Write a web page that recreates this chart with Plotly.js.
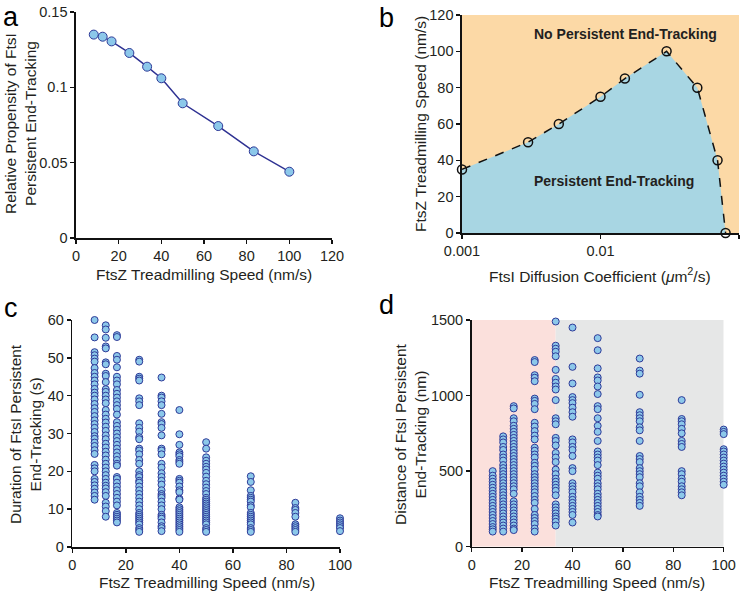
<!DOCTYPE html>
<html>
<head>
<meta charset="utf-8">
<script src="https://cdn.plot.ly/plotly-3.0.1.min.js"></script>
<style>html,body{margin:0;padding:0;background:#fff}#chart{width:746px;height:592px}</style>
</head>
<body>
<div id="chart"></div>
<script>
// ---------- Panel a ----------
const speedA = [8.33, 12.5, 16.67, 25, 33.33, 40, 50, 66.67, 83.33, 100];
const propensityA = [0.1350, 0.1336, 0.1305, 0.1228, 0.1137, 0.1060, 0.0894, 0.0743, 0.0575, 0.0440];

// ---------- Panel b ----------
const diffB = [0.001, 0.003, 0.005, 0.01, 0.015, 0.03, 0.05, 0.07, 0.08];
const speedB = [35, 50, 60, 75, 85, 100, 80, 40, 0];

// ---------- Panel c (duration, s) ----------
const speedsCD = [8.33, 12.5, 16.67, 25, 33.33, 40, 50, 66.67, 83.33, 100];
const durC_8 = [60, 55.4, 51.5, 50.7, 49.8, 49, 47.3, 46, 45, 44, 43, 41.8, 40.8, 40, 39, 37.8, 36.7, 35.7, 34.6, 33.5, 32.5, 31.5, 30.4, 29.3, 28.6, 27.6, 26.7, 25.6, 24.6, 21.7, 20.8, 20, 18, 17.2, 16.3, 15.4, 14.4, 13.5, 12.5];
const durC_12 = [58.6, 57.5, 55.3, 53, 52.5, 48.8, 48.3, 45.8, 45.2, 43.6, 41.7, 41, 40, 39, 38, 36.2, 35, 33.9, 32.9, 31.8, 30.7, 29.5, 28.5, 27.3, 26.3, 25.2, 24.2, 23.1, 22, 21, 20, 19, 18, 17, 16.2, 15.5, 14.5, 13.5, 11.7, 10.7, 9.5, 8];
const durC_16 = [56, 55.5, 50.5, 49.5, 47.5, 45, 44, 43, 41.5, 40.5, 39.5, 38.5, 37.5, 36.5, 35, 33, 32, 31, 30, 29, 28, 27, 26, 25, 24, 23, 22, 21.5, 18.5, 18, 17, 16, 15, 14, 13, 12, 11, 9, 8.5, 8, 7.5, 7, 6.5];
const durC_25 = [49.5, 49, 45, 44.5, 44, 39.3, 38.5, 37.5, 32.7, 31.5, 30.5, 29, 28.5, 26, 25.5, 24.5, 23, 22, 20, 19, 18.5, 17.5, 17, 16, 15, 14, 13, 12, 11, 10, 9, 8.5, 8, 7.5, 7, 6.5, 6, 5, 4.5, 4];
const durC_33 = [44.8, 40, 39.5, 38.5, 37.5, 35.2, 33, 32.5, 31.5, 29.5, 26, 25.5, 24.5, 22, 21, 19.5, 18.5, 17.5, 16.5, 15, 14, 13.5, 13, 12, 11, 10, 8.5, 8, 7.5, 6.5, 5.5, 5, 4.2];
const durC_40 = [36.2, 29.8, 27, 25, 24.5, 24, 23, 22.5, 22, 18, 17.5, 17, 16, 15, 14.5, 12.8, 12.5, 10.5, 10, 9.5, 9, 8.5, 8, 7.5, 7, 6.5, 6, 5.5, 5, 4.5, 4];
const durC_50 = [27.7, 26, 23.7, 22.8, 22, 21.2, 20.5, 19.6, 18.6, 17.5, 16.6, 15.7, 14.8, 14, 13, 12.5, 12, 11.5, 11, 10.5, 10, 9.5, 9, 8.5, 8, 7.5, 7, 6.5, 6, 5, 4.5, 4];
const durC_66 = [18.7, 17.2, 15, 13.5, 13, 12.5, 12, 11, 10.5, 9, 8.5, 8, 7.5, 7, 6.5, 6, 5, 4.5, 4];
const durC_83 = [11.7, 10.3, 9.8, 9, 8, 6, 5.5, 5, 4.5, 4];
const durC_100 = [7.6, 7, 6.5, 6, 5.5, 5, 4.2];

// ---------- Panel d (distance, nm) ----------
const distD_8 = [500, 470, 450, 430, 410, 390, 370, 350, 330, 310, 290, 270, 250, 230, 210, 190, 170, 150, 130, 115, 100];
const distD_12 = [730, 710, 690, 660, 640, 610, 590, 570, 540, 520, 500, 480, 460, 440, 420, 400, 380, 360, 340, 320, 300, 280, 260, 240, 220, 200, 180, 160, 140, 120, 100];
const distD_16 = [930, 915, 850, 830, 800, 780, 760, 740, 720, 700, 680, 660, 640, 620, 600, 580, 560, 540, 520, 500, 480, 460, 440, 420, 400, 380, 350, 300, 280, 260, 240, 220, 200, 180, 160, 140, 120, 110];
const distD_25 = [1235, 1222, 1135, 1118, 1095, 980, 965, 945, 910, 820, 795, 765, 735, 710, 655, 635, 610, 590, 555, 535, 510, 480, 460, 440, 420, 400, 380, 360, 335, 310, 290, 250, 210, 190, 170, 150, 120, 100];
const distD_33 = [1490, 1330, 1310, 1290, 1260, 1170, 1110, 1085, 1060, 1040, 970, 850, 830, 810, 720, 700, 670, 620, 590, 560, 510, 480, 450, 430, 410, 390, 370, 340, 280, 260, 240, 220, 200, 185, 165, 140];
const distD_40 = [1450, 1190, 1080, 990, 970, 950, 920, 890, 860, 710, 690, 660, 640, 600, 520, 500, 420, 400, 380, 360, 330, 310, 290, 270, 250, 230, 210, 160];
const distD_50 = [1380, 1300, 1180, 1120, 1100, 1060, 1010, 930, 910, 850, 800, 760, 700, 630, 610, 590, 570, 540, 490, 470, 450, 420, 400, 380, 350, 330, 310, 290, 270, 250, 230, 210, 200];
const distD_66 = [1245, 1165, 1145, 1005, 890, 870, 850, 830, 790, 770, 700, 600, 580, 560, 520, 500, 480, 460, 420, 400, 360, 330, 310, 290, 270];
const distD_83 = [970, 845, 830, 810, 780, 750, 700, 680, 660, 500, 480, 450, 430, 400, 380, 360, 340];
const distD_100 = [775, 760, 745, 645, 630, 610, 590, 570, 550, 530, 510, 490, 470, 450, 430, 410];

const tickA_y = [0, 0.05, 0.1, 0.15];
const tickA_yText = ['0', '0.05', '0.1', '0.15'];
const tickB_x = [0.001, 0.01, 0.1];
const tickB_xText = ['0.001', '0.01', '0.1'];

// flatten the column groups
function flatten(xs, cols) {
  const X = [], Y = [];
  cols.forEach((c, i) => c.forEach(v => { X.push(xs[i]); Y.push(v); }));
  return {X, Y};
}
const cData = flatten(speedsCD, [durC_8, durC_12, durC_16, durC_25, durC_33, durC_40, durC_50, durC_66, durC_83, durC_100]);
const dData = flatten(speedsCD, [distD_8, distD_12, distD_16, distD_25, distD_33, distD_40, distD_50, distD_66, distD_83, distD_100]);

const W = 746, H = 592;
const FONT = 'Liberation Sans, Arial, Helvetica, sans-serif';
const TXT = '#231f20';
const fillBlue = '#8cc8ea', edgeBlue = '#2e3a98';
const TITLE_SIZE = 15.5, TICK_SIZE = 14.5;

const dx = (a, b) => [a / W, b / W];
const dy = (top, bot) => [1 - bot / H, 1 - top / H];

const axBase = {
  showgrid: false, zeroline: false, showline: true, linecolor: '#111', linewidth: 1.6,
  ticks: 'outside', ticklen: 4, tickwidth: 1.5, tickcolor: '#111',
  tickfont: {family: FONT, size: TICK_SIZE, color: TXT}, fixedrange: true
};
const ax = (o) => Object.assign({}, axBase, o);

const traces = [
  // a
  {x: speedA, y: propensityA, xaxis: 'x', yaxis: 'y', mode: 'lines+markers', type: 'scatter',
   line: {color: '#2e3192', width: 1.5},
   marker: {size: 9, color: fillBlue, line: {color: edgeBlue, width: 1}}, cliponaxis: false},
  // b fill
  {x: diffB, y: speedB, xaxis: 'x2', yaxis: 'y2', mode: 'lines', type: 'scatter', fill: 'tozeroy',
   fillcolor: '#a8d6e3', line: {width: 0, color: 'rgba(0,0,0,0)'}},
  // b boundary
  {x: diffB, y: speedB, xaxis: 'x2', yaxis: 'y2', mode: 'lines+markers', type: 'scatter',
   line: {color: '#111', width: 1.5, dash: 'dash'},
   marker: {size: 9, color: 'rgba(0,0,0,0)', line: {color: '#111', width: 1.5}}, cliponaxis: false},
  // c
  {x: cData.X, y: cData.Y, xaxis: 'x3', yaxis: 'y3', mode: 'markers', type: 'scatter',
   marker: {size: 7, color: fillBlue, line: {color: edgeBlue, width: 1}}, cliponaxis: false},
  // d
  {x: dData.X, y: dData.Y, xaxis: 'x4', yaxis: 'y4', mode: 'markers', type: 'scatter',
   marker: {size: 7, color: fillBlue, line: {color: edgeBlue, width: 1}}, cliponaxis: false}
];

function ann(text, px, py, opts) {
  return Object.assign({text: text, xref: 'paper', yref: 'paper', x: px / W, y: 1 - py / H,
    xanchor: 'center', yanchor: 'middle', showarrow: false,
    font: {family: FONT, size: TITLE_SIZE, color: TXT}}, opts || {});
}
const letterFont = {family: FONT, size: 27, color: '#000'};

const layout = {
  width: W, height: H, margin: {l: 0, r: 0, t: 0, b: 0},
  paper_bgcolor: '#fff', plot_bgcolor: 'rgba(0,0,0,0)', showlegend: false,
  font: {family: FONT, color: TXT},
  xaxis: ax({domain: dx(76, 332), range: [0, 120], tickvals: [0, 20, 40, 60, 80, 100, 120], anchor: 'y'}),
  yaxis: ax({domain: dy(12, 238), range: [0, 0.15], tickvals: tickA_y, ticktext: tickA_yText, anchor: 'x'}),
  xaxis2: ax({domain: dx(462, 739), type: 'log', range: [-3, -1], tickvals: tickB_x, ticktext: tickB_xText, anchor: 'y2'}),
  yaxis2: ax({domain: dy(15, 233), range: [0, 120], tickvals: [0, 20, 40, 60, 80, 100, 120], anchor: 'x2'}),
  xaxis3: ax({domain: dx(72.3, 340), range: [0, 100], tickvals: [0, 20, 40, 60, 80, 100], anchor: 'y3'}),
  yaxis3: ax({domain: dy(320, 547), range: [0, 60], tickvals: [0, 10, 20, 30, 40, 50, 60], anchor: 'x3'}),
  xaxis4: ax({domain: dx(471.7, 723.7), range: [0, 100], tickvals: [0, 20, 40, 60, 80, 100], anchor: 'y4'}),
  yaxis4: ax({domain: dy(320, 546.7), range: [0, 1500], tickvals: [0, 500, 1000, 1500], anchor: 'x4'}),
  shapes: [
    {type: 'rect', xref: 'x2 domain', yref: 'y2 domain', x0: 0, x1: 1, y0: 0, y1: 1,
     fillcolor: '#fcd9a6', line: {width: 0}, layer: 'below'},
    {type: 'rect', xref: 'x4', yref: 'y4', x0: 0, x1: 33.33, y0: 0, y1: 1500,
     fillcolor: '#fbe0dc', line: {width: 0}, layer: 'below'},
    {type: 'rect', xref: 'x4', yref: 'y4', x0: 33.33, x1: 100, y0: 0, y1: 1500,
     fillcolor: '#e6e7e7', line: {width: 0}, layer: 'below'}
  ],
  annotations: [
    // panel letters
    ann('a', 11, 17, {font: letterFont}),
    ann('b', 386, 18, {font: letterFont}),
    ann('c', 11, 308, {font: letterFont}),
    ann('d', 386, 305, {font: letterFont}),
    // axis titles
    ann('FtsZ Treadmilling Speed (nm/s)', 204, 275),
    ann('Relative Propensity of FtsI<br>Persistent End-Tracking', 21, 124, {textangle: -90}),
    ann('FtsI Diffusion Coefficient (<i>μ</i>m<sup>2</sup>/s)', 600, 275),
    ann('FtsZ Treadmilling Speed (nm/s)', 421, 124, {textangle: -90}),
    ann('FtsZ Treadmilling Speed (nm/s)', 207, 582),
    ann('Duration of FtsI Persistent<br>End-Tracking (s)', 25, 434, {textangle: -90}),
    ann('FtsZ Treadmilling Speed (nm/s)', 597, 582),
    ann('Distance of FtsI Persistent<br>End-Tracking (nm)', 410, 434, {textangle: -90}),
    // region labels in b
    ann('<b>No Persistent End-Tracking</b>', 625, 34, {font: {family: FONT, size: 14, color: TXT}}),
    ann('<b>Persistent End-Tracking</b>', 614, 181, {font: {family: FONT, size: 14, color: TXT}})
  ]
};

Plotly.newPlot('chart', traces, layout, {staticPlot: true, displayModeBar: false});
</script>
</body>
</html>
